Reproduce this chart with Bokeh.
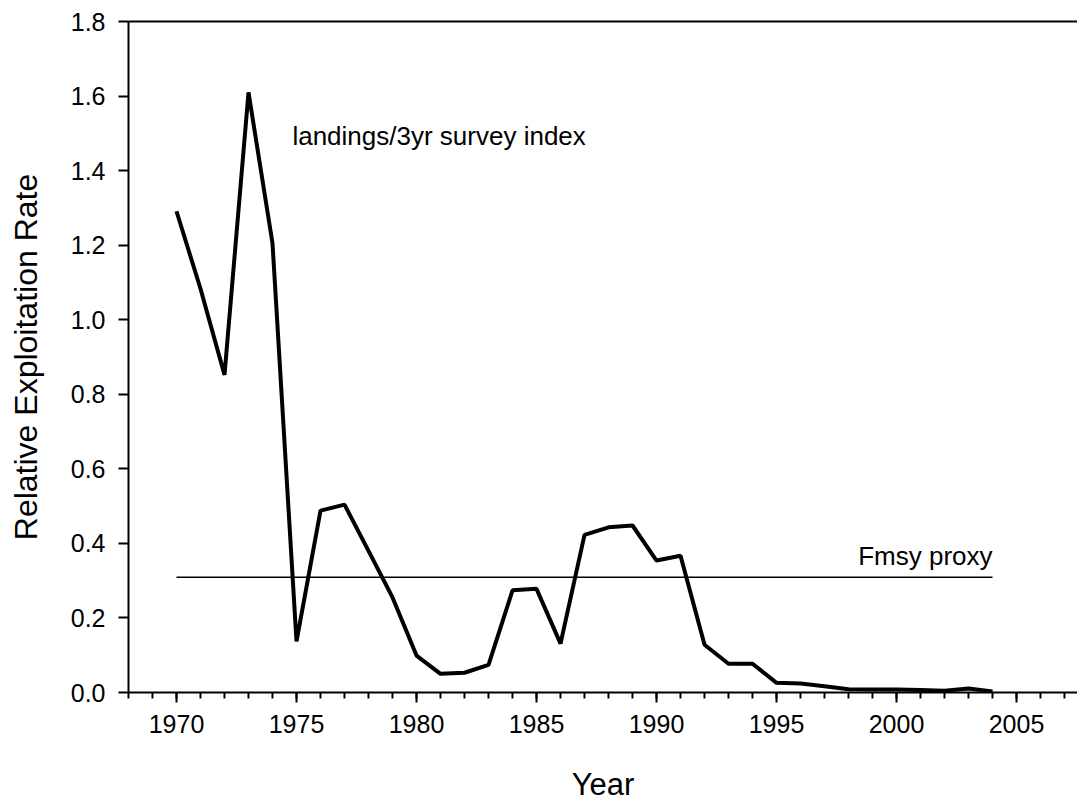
from bokeh.plotting import figure
from bokeh.models import Range1d, LinearAxis, SingleIntervalTicker, FixedTicker, PrintfTickFormatter, Label
from bokeh.embed import file_html
from bokeh.resources import INLINE

years = list(range(1970, 2005))
exploitation = [1.291, 1.083, 0.852, 1.610, 1.205, 0.137, 0.488, 0.504, 0.380, 0.255,
                0.099, 0.050, 0.053, 0.074, 0.274, 0.278, 0.131, 0.423, 0.443, 0.448,
                0.354, 0.367, 0.128, 0.077, 0.077, 0.026, 0.024, 0.017, 0.009, 0.008,
                0.008, 0.007, 0.005, 0.011, 0.003]
fmsy_years = [1970, 2004]
fmsy_value = [0.309, 0.309]
series_label = "landings/3yr survey index"
fmsy_label = "Fmsy proxy"
x_title = "Year"
y_title = "Relative Exploitation Rate"

FONT = "Liberation Sans"

p = figure(width=1077, height=804, output_backend="svg", toolbar_location=None,
           x_range=Range1d(1968, 2007.54), y_range=Range1d(0, 1.8),
           min_border_left=128, min_border_right=0, min_border_top=21, min_border_bottom=112)
p.outline_line_color = None
p.xgrid.visible = False
p.ygrid.visible = False

p.line(years, exploitation, line_color="black", line_width=4, line_join="bevel")
p.line(fmsy_years, fmsy_value, line_color="black", line_width=1.6)

# x axis
xa = p.xaxis[0]
xa.ticker = SingleIntervalTicker(interval=5, num_minor_ticks=5)
xa.axis_label = x_title
xa.axis_label_text_font = FONT
xa.axis_label_text_font_style = "normal"
xa.axis_label_text_font_size = "31px"
xa.axis_label_text_color = "black"
xa.axis_label_standoff = 31
xa.major_label_text_font = FONT
xa.major_label_text_font_size = "25px"
xa.major_label_text_color = "black"
xa.major_label_standoff = 12
xa.axis_line_width = 2
xa.axis_line_color = "black"
xa.major_tick_line_width = 2
xa.minor_tick_line_width = 2
xa.major_tick_line_color = "black"
xa.minor_tick_line_color = "black"
xa.major_tick_in = 0
xa.major_tick_out = 10
xa.minor_tick_in = 0
xa.minor_tick_out = 6

# y axis
ya = p.yaxis[0]
ya.ticker = SingleIntervalTicker(interval=0.2, num_minor_ticks=0)
ya.formatter = PrintfTickFormatter(format="%.1f")
ya.axis_label = y_title
ya.axis_label_text_font = FONT
ya.axis_label_text_font_style = "normal"
ya.axis_label_text_font_size = "32px"
ya.axis_label_text_color = "black"
ya.axis_label_standoff = 24
ya.major_label_text_font = FONT
ya.major_label_text_font_size = "25px"
ya.major_label_text_color = "black"
ya.major_label_standoff = 13
ya.axis_line_width = 2
ya.axis_line_color = "black"
ya.major_tick_line_width = 2
ya.major_tick_line_color = "black"
ya.major_tick_in = 0
ya.major_tick_out = 10
ya.minor_tick_line_color = None

# top frame line
top = LinearAxis(ticker=FixedTicker(ticks=[]), major_tick_line_color=None,
                 minor_tick_line_color=None, axis_line_width=2, axis_line_color="black",
                 major_label_standoff=0)
p.add_layout(top, "above")

p.add_layout(Label(x=1974.83, y=1.494, text=series_label, text_font=FONT,
                   text_font_size="26px", text_color="black", text_align="left",
                   text_baseline="alphabetic"))
p.add_layout(Label(x=fmsy_years[-1], y=0.367, text=fmsy_label, text_font=FONT,
                   text_font_size="26px", text_color="black", text_align="right",
                   text_baseline="alphabetic"))

open("out.html", "w").write(file_html(p, INLINE))
